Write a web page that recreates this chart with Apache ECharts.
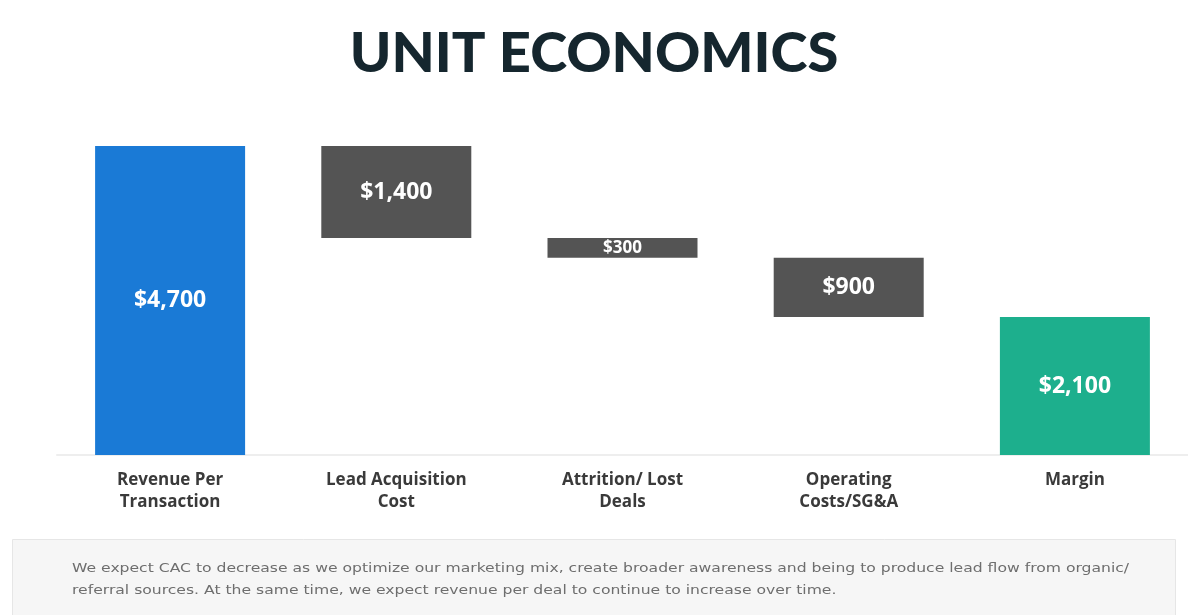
<!DOCTYPE html>
<html>
<head>
<meta charset="utf-8">
<script src="https://cdn.jsdelivr.net/npm/echarts@6/dist/echarts.min.js"></script>
<style>
html,body{margin:0;padding:0;background:#fff;}
#c{width:1188px;height:615px;}
</style>
</head>
<body>
<div id="c"></div>
<script>
const categories = ['Revenue Per\nTransaction', 'Lead Acquisition\nCost', 'Attrition/ Lost\nDeals', 'Operating\nCosts/SG&A', 'Margin'];
const values = [4700, 1400, 300, 900, 2100];
const kinds = ['total', 'minus', 'minus', 'minus', 'total'];
const labels = ['$4,700', '$1,400', '$300', '$900', '$2,100'];
const colors = { start: '#1A7AD6', minus: '#545454', end: '#1DAF8D' };
const title = 'UNIT ECONOMICS';
const note = [
  'We expect CAC to decrease as we optimize our marketing mix, create broader awareness and being to produce lead flow from organic/',
  'referral sources. At the same time, we expect revenue per deal to continue to increase over time.'
];

// running-total bases for the waterfall
const bases = [];
let running = 0;
values.forEach((v, i) => {
  if (kinds[i] === 'total') { bases.push(0); running = v; }
  else { running -= v; bases.push(running); }
});

const chart = echarts.init(document.getElementById('c'));
chart.setOption({
  animation: false,
  backgroundColor: '#ffffff',
  title: {
    text: title,
    left: 'center',
    top: 21,
    textStyle: { fontFamily: 'Lato', fontWeight: 900, fontSize: 56, color: '#15262E' }
  },
  grid: { left: 57, top: 146, width: 1159, bottom: 160, containLabel: false },
  xAxis: {
    type: 'category',
    data: categories,
    axisLine: { show: true, lineStyle: { color: '#eeeeee', width: 2 } },
    axisTick: { show: false },
    axisLabel: {
      margin: 14, color: '#3a3a3a', fontFamily: 'Open Sans', fontWeight: 'bold',
      fontSize: 17, lineHeight: 22, interval: 0
    }
  },
  yAxis: { type: 'value', min: 0, max: 4700, show: false, splitLine: { show: false } },
  series: [
    {
      type: 'bar', stack: 'w', silent: true,
      itemStyle: { color: 'transparent' },
      data: bases, barWidth: 150
    },
    {
      type: 'bar', stack: 'w', barWidth: 150,
      data: values.map((v, i) => ({
        value: v,
        itemStyle: { color: i === 0 ? colors.start : (i === values.length - 1 ? colors.end : colors.minus) },
        label: v < 500 ? { fontSize: 17 } : undefined
      })),
      label: {
        show: true, position: 'inside',
        formatter: p => labels[p.dataIndex],
        color: '#ffffff', fontFamily: 'Open Sans', fontWeight: 'bold', fontSize: 23
      }
    }
  ],
  graphic: [
    {
      type: 'rect', left: 12, top: 539,
      shape: { width: 1163, height: 80 },
      style: { fill: '#f6f6f6', stroke: '#e6e6e6', lineWidth: 1 }
    },
    {
      type: 'text', x: 72, y: 562, scaleX: 1.2,
      style: { text: note[0], fill: '#6e6e6e', font: '13px "DejaVu Sans"' }
    },
    {
      type: 'text', x: 72, y: 584, scaleX: 1.2,
      style: { text: note[1], fill: '#6e6e6e', font: '13px "DejaVu Sans"' }
    }
  ]
});
</script>
</body>
</html>
